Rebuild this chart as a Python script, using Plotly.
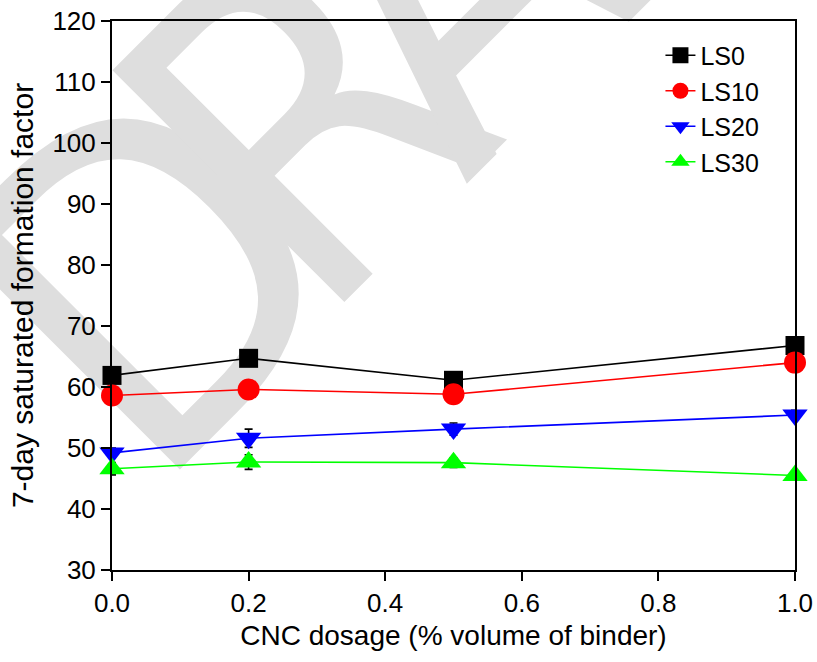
import plotly.graph_objects as go

# ---- data ----
cnc_dosage = [0.0, 0.2, 0.5, 1.0]
ls0 = [61.9, 64.7, 61.1, 66.8]
ls10 = [58.6, 59.6, 58.8, 64.0]
ls20 = [49.2, 51.6, 53.1, 55.4]
ls30 = [46.6, 47.7, 47.6, 45.5]
ls0_err = [0.6, 0.6, 0.6, 0.6]
ls10_err = [0.5, 0.5, 0.8, 0.8]
ls20_err = [0.8, 1.5, 1.0, 0.8]
ls30_err = [1.0, 1.2, 0.8, 0.5]
series_names = ["LS0", "LS10", "LS20", "LS30"]
x_ticks = [0.0, 0.2, 0.4, 0.6, 0.8, 1.0]
y_ticks = [30, 40, 50, 60, 70, 80, 90, 100, 110, 120]

# background watermark letters (paper coordinates of each letter centre)
wm_letters = ["D", "R", "A", "F", "T"]
wm_x = [0.025, 0.250, 0.465, 0.690, 0.890]
wm_y = [0.575, 0.860, 1.120, 1.395, 1.645]

FONT = "Liberation Sans, Arial, sans-serif"
WM_FONT = "Liberation Sans Narrow, DejaVu Sans Condensed, Liberation Sans, sans-serif"

styles = [
    dict(color="#000000", symbol="square", size=19),
    dict(color="#ff0000", symbol="circle", size=22),
    dict(color="#0000ff", symbol="triangle-down", size=22),
    dict(color="#00ff00", symbol="triangle-up", size=22),
]

fig = go.Figure()
for name, ys, err, st in zip(series_names, [ls0, ls10, ls20, ls30],
                             [ls0_err, ls10_err, ls20_err, ls30_err], styles):
    fig.add_trace(go.Scatter(
        x=cnc_dosage, y=ys, name=name, mode="lines+markers",
        line=dict(color=st["color"], width=1.6),
        marker=dict(symbol=st["symbol"], size=st["size"], color=st["color"],
                    line=dict(width=0)),
        error_y=dict(type="data", array=err, color="#000000", thickness=1.6, width=4),
        cliponaxis=False,
    ))

for ch, cx, cy in zip(wm_letters, wm_x, wm_y):
    fig.add_shape(
        type="rect", xref="paper", yref="paper",
        x0=cx - 0.004, x1=cx + 0.004, y0=cy - 0.004, y1=cy + 0.004,
        line=dict(width=0), fillcolor="rgba(0,0,0,0)", layer="below",
        label=dict(text=ch, font=dict(family=WM_FONT, size=450, color="#dedede"),
                   textangle=-45, textposition="middle center"),
    )

axis_common = dict(
    showline=True, linecolor="#000000", linewidth=2, mirror=True,
    ticks="outside", ticklen=9, tickwidth=2, tickcolor="#000000",
    showgrid=False, zeroline=False, automargin=False,
    ticklabeloverflow="allow",
    tickfont=dict(family=FONT, size=26, color="#000000"),
)

fig.update_xaxes(range=[0, 1.0], tickvals=x_ticks, tickformat=".1f",
                 title=dict(text="CNC dosage (% volume of binder)",
                            font=dict(family=FONT, size=28, color="#000000"),
                            standoff=8),
                 **axis_common)
fig.update_yaxes(range=[30, 120], tickvals=y_ticks,
                 title=dict(text="7-day saturated formation factor",
                            font=dict(family=FONT, size=30, color="#000000"),
                            standoff=10),
                 **axis_common)

fig.update_layout(
    width=817, height=662,
    margin=dict(l=112, r=22, t=21, b=92),
    paper_bgcolor="white", plot_bgcolor="rgba(0,0,0,0)",
    font=dict(family=FONT, color="#000000"),
    showlegend=True,
    legend=dict(x=0.803, y=0.979, xanchor="left", yanchor="top",
                bgcolor="rgba(0,0,0,0)", borderwidth=0,
                font=dict(family=FONT, size=25, color="#000000")),
)

# remove the default page margin so the figure fills the window exactly
fig.write_html("out.html", config={"displayModeBar": False},
               post_script="document.body.style.margin='0px';")
